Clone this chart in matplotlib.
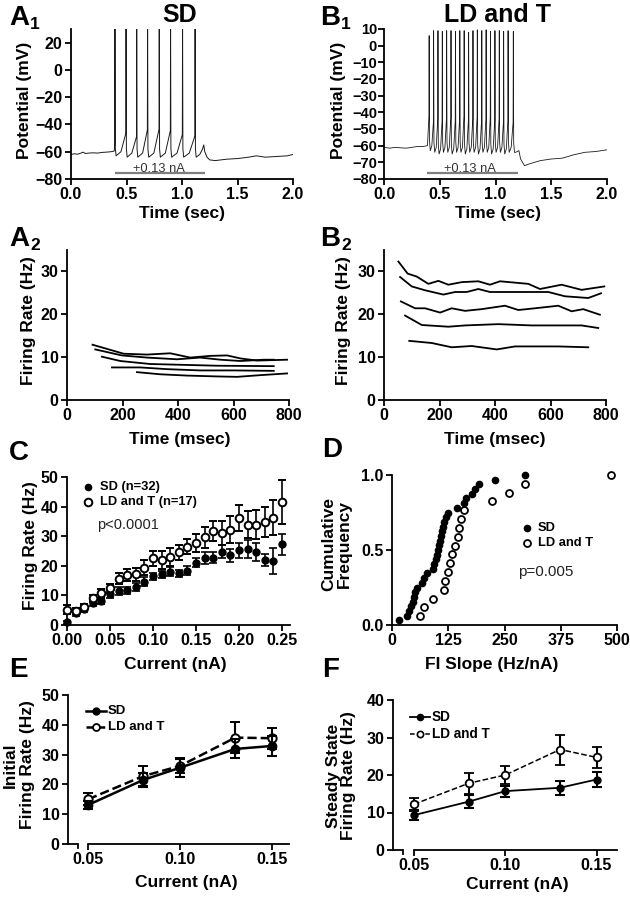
import matplotlib
matplotlib.use('Agg')
import matplotlib.pyplot as plt

plt.rcParams['font.family'] = ['Liberation Sans', 'DejaVu Sans']
plt.rcParams['font.weight'] = 'bold'
plt.rcParams['axes.labelweight'] = 'bold'

# ---------------- DATA ----------------
# A1 trace (SD): baseline before, spikes, after
a1_pre_t = [0.00, 0.03, 0.06, 0.09, 0.11, 0.13, 0.16, 0.20, 0.24, 0.28, 0.32, 0.36, 0.390]
a1_pre_v = [-62, -61.5, -61.8, -61, -60.3, -61.3, -61, -60.8, -61, -60.5, -60.3, -60, -59.5]
a1_spike_t = [0.396, 0.496, 0.592, 0.690, 0.795, 0.897, 1.005, 1.118]
a1_spike_peak = [40, 40, 40, 40, 40, 40, 40, 40]
a1_shoulder = [-54, -46.5, -49, -44, -43.5, -44.5, -47.5, -48.5]
a1_trough = [-63, -64, -64, -64, -64, -64, -64, -64]
a1_post_t = [1.160, 1.185, 1.196, 1.205, 1.225, 1.25, 1.30, 1.40, 1.50, 1.60, 1.67, 1.75, 1.85, 1.95, 2.00]
a1_post_v = [-62, -58, -55, -60, -64, -66, -66.5, -65.5, -65, -64, -63, -64, -63.5, -63, -62]

# B1 trace (LD and T)
b1_pre_t = [0.00, 0.05, 0.10, 0.15, 0.20, 0.25, 0.30, 0.35, 0.39]
b1_pre_v = [-61, -61.5, -61, -61.3, -61.5, -61, -60.5, -60.5, -60]
b1_spike_t = [0.405, 0.445, 0.484, 0.523, 0.562, 0.601, 0.641, 0.680, 0.719, 0.759,
              0.798, 0.837, 0.877, 0.916, 0.955, 0.995, 1.034, 1.073, 1.113, 1.160]
b1_spike_peak = [6, 9, 9, 8.5, 9, 9, 8.5, 9, 9, 8, 9, 9.5, 9, 9.5, 8.5, 9, 9, 8.5, 9, 8.5]
b1_shoulder = [-42, -46, -44, -45, -44, -43, -45, -44, -42, -45,
               -44, -43, -45, -44, -43, -45, -44, -46, -45, -46]
b1_trough = [-63, -64, -65, -64, -64, -65, -64, -64, -65, -64,
             -64, -65, -64, -64, -65, -64, -64, -65, -64, -64]
b1_post_t = [1.18, 1.21, 1.225, 1.26, 1.30, 1.40, 1.50, 1.60, 1.70, 1.80, 1.90, 2.00]
b1_post_v = [-64, -63, -68, -72, -71, -69, -68, -67.5, -65.5, -64, -63.5, -62.5]

stim_label = '+0.13 nA'

# A2: firing rate vs time (SD), five cells
a2_lines = [
    ([92, 156, 204, 288, 372, 444, 517, 577, 625, 685, 793],
     [12.9, 11.7, 10.8, 10.6, 10.9, 9.9, 10.3, 10.4, 9.7, 9.2, 9.4]),
    ([102, 198, 288, 396, 480, 553, 625, 709, 745],
     [11.8, 10.4, 9.9, 9.5, 9.9, 9.4, 9.1, 9.4, 9.4]),
    ([126, 192, 300, 420, 541, 745],
     [10.1, 9.1, 8.4, 8.2, 8.0, 7.9]),
    ([162, 264, 360, 480, 600, 745],
     [7.6, 7.6, 7.2, 6.9, 6.9, 6.8]),
    ([252, 336, 432, 541, 613, 697, 793],
     [6.5, 6.0, 5.7, 5.5, 5.4, 5.8, 6.2]),
]
# B2: firing rate vs time (LD and T)
b2_lines = [
    ([52, 85, 118, 160, 196, 232, 280, 340, 382, 418, 520, 562, 640, 712, 794],
     [32.3, 29.5, 28.8, 27.1, 27.8, 26.9, 27.5, 27.7, 26.9, 27.7, 27.1, 25.9, 26.9, 25.7, 26.5]),
    ([58, 100, 148, 214, 256, 298, 340, 382, 472, 592, 652, 736, 782],
     [28.7, 26.5, 25.6, 24.6, 25.2, 25.2, 25.9, 25.2, 25.2, 25.2, 24.2, 23.8, 24.9]),
    ([61, 112, 148, 202, 244, 292, 352, 436, 484, 544, 628, 676, 718, 778],
     [23.0, 21.4, 21.4, 20.4, 21.4, 20.8, 21.2, 22.0, 21.0, 21.4, 22.0, 20.7, 21.2, 19.9]),
    ([76, 136, 232, 292, 412, 532, 712, 772],
     [19.7, 17.5, 17.1, 17.4, 17.7, 17.4, 17.4, 16.8]),
    ([91, 172, 244, 316, 406, 472, 628, 736],
     [13.8, 13.3, 12.3, 12.6, 11.8, 12.5, 12.5, 12.3]),
]

# C: FI curves
c_current = [0.00, 0.01, 0.02, 0.03, 0.04, 0.05, 0.06, 0.07, 0.08, 0.09, 0.10, 0.11, 0.12,
             0.13, 0.14, 0.15, 0.16, 0.17, 0.18, 0.19, 0.20, 0.21, 0.22, 0.23, 0.24, 0.25]
c_sd = [0.9, 4.2, 5.4, 7.3, 8.2, 10.4, 11.5, 11.8, 12.9, 14.6, 16.5, 17.1, 18.0,
        17.4, 18.3, 21.1, 22.5, 22.8, 24.7, 23.6, 25.3, 25.8, 24.7, 21.9, 21.6, 27.3]
c_sd_err = [0.5, 1.0, 1.0, 1.0, 1.0, 1.2, 1.5, 1.2, 1.3, 1.5, 1.2, 1.3, 1.5,
            1.3, 1.5, 1.5, 2.0, 1.8, 2.2, 2.2, 2.5, 3.0, 3.0, 2.0, 4.3, 3.5]
c_ld = [5.1, 4.7, 6.2, 9.0, 10.7, 12.4, 15.7, 16.9, 17.2, 19.3, 22.5, 21.9, 23.0,
        24.5, 26.4, 27.8, 29.6, 31.8, 31.1, 32.2, 36.2, 33.9, 33.9, 34.8, 36.3, 41.6]
c_ld_err = [1.5, 1.0, 1.0, 1.3, 1.5, 1.5, 2.0, 2.0, 2.2, 2.5, 2.5, 3.0, 3.0,
            2.5, 2.5, 3.0, 3.5, 3.5, 4.0, 4.5, 4.5, 4.5, 5.0, 5.0, 6.0, 7.5]
c_labels = ['SD (n=32)', 'LD and T (n=17)']
c_p = 'p<0.0001'

# D: cumulative distributions of FI slope
d_sd_slope = [16, 33, 38, 43, 46, 49, 52, 56, 66, 72, 78, 90, 94, 98, 101, 103,
              105, 107, 108, 110, 113, 115, 119, 125, 144, 160, 164, 178, 185, 193, 229, 296]
d_ld_slope = [62, 72, 90, 116, 118, 125, 128, 133, 139, 146, 148, 154, 160, 222, 260, 296, 487]
d_labels = ['SD', 'LD and T']
d_p = 'p=0.005'

# E: initial firing rate
e_current = [0.05, 0.08, 0.10, 0.13, 0.15]
e_sd = [13.1, 21.5, 25.6, 31.9, 32.9]
e_sd_err = [1.3, 2.3, 3.0, 3.2, 3.4]
e_ld = [15.0, 22.8, 26.2, 35.7, 35.5]
e_ld_err = [2.0, 3.5, 2.5, 5.3, 3.5]

# F: steady state firing rate
f_current = [0.05, 0.08, 0.10, 0.13, 0.15]
f_sd = [9.3, 12.9, 15.7, 16.6, 18.8]
f_sd_err = [1.3, 1.8, 1.5, 1.9, 2.0]
f_ld = [12.2, 17.8, 20.0, 26.8, 24.7]
f_ld_err = [1.8, 2.8, 2.5, 4.0, 2.7]
ef_labels = ['SD', 'LD and T']

# ---------------- FIGURE ----------------
W, H = 630, 899
fig = plt.figure(figsize=(6.3, 8.99), dpi=100)

def add_ax(box):
    l, t, r, b = box
    return fig.add_axes([l / W, 1 - b / H, (r - l) / W, (b - t) / H])

def ftext(x, y, s, **kw):
    return fig.text(x / W, 1 - y / H, s, **kw)

def axfrac(box, x, y):
    l, t, r, b = box
    return (x - l) / (r - l), (b - y) / (b - t)

TICK = 11.5
LAB = 12.5

def style(ax, ysize=TICK):
    for s in ['top', 'right']:
        ax.spines[s].set_visible(False)
    for s in ['left', 'bottom']:
        ax.spines[s].set_linewidth(1.3)
    ax.tick_params(direction='out', length=4, width=1.3, labelsize=TICK, pad=2)
    ax.tick_params(axis='y', labelsize=ysize)

def build_trace(pre_t, pre_v, sp_t, sp_pk, sp_sh, sp_tr, post_t, post_v):
    t = list(pre_t)
    v = list(pre_v)
    for i, ts in enumerate(sp_t):
        t += [ts - 0.002, ts, ts + 0.003, ts + 0.010]
        v += [sp_sh[i], sp_pk[i], sp_tr[i] + 6, sp_tr[i]]
        if i < len(sp_t) - 1:
            nxt = sp_t[i + 1]
            t += [(ts + 0.010 + nxt - 0.002) / 2]
            v += [sp_tr[i] + 3]
    t += list(post_t)
    v += list(post_v)
    return t, v

def panel_label(x, y, letter, sub=None):
    ftext(x, y, letter, fontsize=20, fontweight='bold', ha='left', va='baseline')
    if sub:
        ftext(x + 21, y + 4, sub, fontsize=12.5, fontweight='bold', ha='left', va='baseline')

trace_color = '#1a1a1a'
stim_color = '#7f7f7f'

# ---- A1 ----
boxA1 = (71, 29, 293, 179)
ax = add_ax(boxA1)
t, v = build_trace(a1_pre_t, a1_pre_v, a1_spike_t, a1_spike_peak, a1_shoulder, a1_trough,
                   a1_post_t, a1_post_v)
ax.plot(t, v, color=trace_color, lw=0.7)
ax.plot([0.40, 1.21], [-75.5, -75.5], color=stim_color, lw=1.6, solid_capstyle='butt')
ax.text(0.79, -75.2, stim_label, ha='center', va='baseline', fontsize=9.3, fontweight='normal',
        color='#333333')
ax.set_xlim(0, 2)
ax.set_ylim(-80, 30)
ax.set_xticks([0, 0.5, 1.0, 1.5, 2.0])
ax.set_xticklabels(['0.0', '0.5', '1.0', '1.5', '2.0'])
ax.set_yticks([-80, -60, -40, -20, 0, 20])
style(ax)
ftext(182, 213, 'Time (sec)', fontsize=LAB, ha='center', va='center')
ftext(24, 100, 'Potential (mV)', fontsize=LAB, ha='center', va='center', rotation=90)
ftext(180, 15, 'SD', fontsize=18, ha='center', va='center')
panel_label(9, 25, 'A', '1')

# ---- B1 ----
boxB1 = (384, 29, 607, 179)
ax = add_ax(boxB1)
t, v = build_trace(b1_pre_t, b1_pre_v, b1_spike_t, b1_spike_peak, b1_shoulder, b1_trough,
                   b1_post_t, b1_post_v)
ax.plot(t, v, color=trace_color, lw=0.6)
ax.plot([0.39, 1.20], [-76.2, -76.2], color=stim_color, lw=1.6, solid_capstyle='butt')
ax.text(0.77, -75.8, stim_label, ha='center', va='baseline', fontsize=9.3, fontweight='normal',
        color='#333333')
ax.set_xlim(0, 2)
ax.set_ylim(-80, 10)
ax.set_xticks([0, 0.5, 1.0, 1.5, 2.0])
ax.set_xticklabels(['0.0', '0.5', '1.0', '1.5', '2.0'])
ax.set_yticks(list(range(-80, 11, 10)))
style(ax, ysize=10.5)
ax.tick_params(axis='y', pad=1)
ftext(498, 213, 'Time (sec)', fontsize=LAB, ha='center', va='center')
ftext(339, 100, 'Potential (mV)', fontsize=LAB, ha='center', va='center', rotation=90)
ftext(498, 15, 'LD and T', fontsize=18, ha='center', va='center')
panel_label(320, 25, 'B', '1')

# ---- A2 ----
boxA2 = (67, 250, 289, 400)
ax = add_ax(boxA2)
for xs, ys in a2_lines:
    ax.plot(xs, ys, color='black', lw=1.3)
ax.set_xlim(0, 800)
ax.set_ylim(0, 35)
ax.set_xticks([0, 200, 400, 600, 800])
ax.set_yticks([0, 10, 20, 30])
style(ax)
ftext(180, 440, 'Time (msec)', fontsize=LAB, ha='center', va='center')
ftext(29, 321, 'Firing Rate (Hz)', fontsize=LAB, ha='center', va='center', rotation=90)
panel_label(9, 246, 'A', '2')

# ---- B2 ----
boxB2 = (384, 250, 606, 400)
ax = add_ax(boxB2)
for xs, ys in b2_lines:
    ax.plot(xs, ys, color='black', lw=1.3)
ax.set_xlim(0, 800)
ax.set_ylim(0, 35)
ax.set_xticks([0, 200, 400, 600, 800])
ax.set_yticks([0, 10, 20, 30])
style(ax)
ftext(495, 440, 'Time (msec)', fontsize=LAB, ha='center', va='center')
ftext(344, 321, 'Firing Rate (Hz)', fontsize=LAB, ha='center', va='center', rotation=90)
panel_label(320, 246, 'B', '2')

# ---- C ----
boxC = (67, 477, 290, 625)
ax = add_ax(boxC)
ax.errorbar(c_current, c_sd, yerr=c_sd_err, fmt='o', color='black', ms=5, mfc='black',
            capsize=3, elinewidth=1.2, capthick=1.2, clip_on=False, zorder=3)
ax.errorbar(c_current, c_ld, yerr=c_ld_err, fmt='o', color='black', ms=5.5, mfc='white',
            mew=1.4, capsize=3, elinewidth=1.2, capthick=1.2, clip_on=False, zorder=4)
ax.set_xlim(0, 0.2593)
ax.set_ylim(0, 50)
ax.set_xticks([0, 0.05, 0.10, 0.15, 0.20, 0.25])
ax.set_xticklabels(['0.00', '0.05', '0.10', '0.15', '0.20', '0.25'])
ax.set_yticks([0, 10, 20, 30, 40, 50])
style(ax)
fx, fy = axfrac(boxC, 88, 487)
ax.plot([fx], [fy], 'o', color='black', ms=4.5, transform=ax.transAxes, clip_on=False)
fx2, fy2 = axfrac(boxC, 88, 502)
ax.plot([fx2], [fy2], 'o', color='black', mfc='white', mew=1.4, ms=5.5, transform=ax.transAxes,
        clip_on=False)
ftext(100, 487, c_labels[0], fontsize=9.3, ha='left', va='center')
ftext(100, 502, c_labels[1], fontsize=9.3, ha='left', va='center')
ftext(97, 525, c_p, fontsize=10.5, fontweight='normal', ha='left', va='center', color='#222222')
ftext(175, 664, 'Current (nA)', fontsize=LAB, ha='center', va='center')
ftext(30, 546, 'Firing Rate (Hz)', fontsize=LAB, ha='center', va='center', rotation=90)
panel_label(9, 460, 'C')

# ---- D ----
boxD = (392, 475, 617, 625)
ax = add_ax(boxD)
n_sd = len(d_sd_slope)
n_ld = len(d_ld_slope)
ax.plot(d_sd_slope, [(i + 1) / n_sd for i in range(n_sd)], 'o', color='black', ms=4.5,
        clip_on=False, zorder=3)
ax.plot(d_ld_slope, [(i + 1) / n_ld for i in range(n_ld)], 'o', color='black', mfc='white',
        mew=1.3, ms=5, clip_on=False, zorder=3)
ax.set_xlim(0, 500)
ax.set_ylim(0, 1)
ax.set_xticks([0, 125, 250, 375, 500])
ax.set_yticks([0, 0.5, 1.0])
ax.set_yticklabels(['0.0', '0.5', '1.0'])
style(ax)
fx, fy = axfrac(boxD, 527, 528)
ax.plot([fx], [fy], 'o', color='black', ms=4.5, transform=ax.transAxes, clip_on=False)
fx2, fy2 = axfrac(boxD, 527, 543)
ax.plot([fx2], [fy2], 'o', color='black', mfc='white', mew=1.3, ms=5, transform=ax.transAxes,
        clip_on=False)
ftext(538, 528, d_labels[0], fontsize=9.3, ha='left', va='center')
ftext(538, 543, d_labels[1], fontsize=9.3, ha='left', va='center')
ftext(518, 572, d_p, fontsize=11, fontweight='normal', ha='left', va='center', color='#222222')
ftext(492, 664, 'FI Slope (Hz/nA)', fontsize=LAB, ha='center', va='center')
ftext(337, 544, 'Cumulative\nFrequency', fontsize=LAB, ha='center', va='center', rotation=90,
      multialignment='center', linespacing=1.05)
panel_label(322, 457, 'D')

# ---- E ----
boxE = (68, 695, 289, 844)
ax = add_ax(boxE)
ax.errorbar(e_current, e_ld, yerr=e_ld_err, fmt='o--', color='black', ms=6, mfc='white',
            mew=1.4, lw=1.8, capsize=3.5, elinewidth=1.5, capthick=1.5, clip_on=False, zorder=3)
ax.errorbar(e_current, e_sd, yerr=e_sd_err, fmt='o-', color='black', ms=6, mfc='black',
            lw=1.8, capsize=3.5, elinewidth=1.5, capthick=1.5, clip_on=False, zorder=4)
ax.set_xlim(0.0391, 0.1592)
ax.set_ylim(0, 50)
ax.set_xticks([0.05, 0.10, 0.15])
ax.set_xticklabels(['0.05', '0.10', '0.15'])
ax.set_yticks([0, 10, 20, 30, 40, 50])
style(ax)
ax.spines['bottom'].set_bounds(0.05, 0.1592)
xb = 0.0391 + 10 / 1840
ax.plot([0.0391, xb], [0, 0], color='black', lw=1.3, clip_on=False, solid_capstyle='butt')
ax.plot([xb, xb], [0, -1.35], color='black', lw=1.3, clip_on=False)
l1a, _ = axfrac(boxE, 86, 0)
l1b, _ = axfrac(boxE, 106, 0)
m1, _ = axfrac(boxE, 96, 0)
_, y1 = axfrac(boxE, 0, 711)
_, y2 = axfrac(boxE, 0, 727)
ax.plot([l1a, l1b], [y1, y1], '-', color='black', lw=1.8, transform=ax.transAxes, clip_on=False)
ax.plot([m1], [y1], 'o', color='black', ms=5, transform=ax.transAxes, clip_on=False)
ax.plot([l1a, l1b], [y2, y2], '--', color='black', lw=1.8, dashes=(3, 1.5),
        transform=ax.transAxes, clip_on=False)
ax.plot([m1], [y2], 'o', color='black', mfc='white', mew=1.3, ms=5, transform=ax.transAxes,
        clip_on=False)
ftext(108, 711, ef_labels[0], fontsize=9.5, ha='left', va='center')
ftext(108, 727, ef_labels[1], fontsize=9.5, ha='left', va='center')
ftext(186, 883, 'Current (nA)', fontsize=LAB, ha='center', va='center')
ftext(19, 765, 'Initial\nFiring Rate (Hz)', fontsize=LAB, ha='center', va='center', rotation=90,
      multialignment='center', linespacing=1.15)
panel_label(9, 677, 'E')

# ---- F ----
boxF = (393, 700, 617, 850)
ax = add_ax(boxF)
ax.errorbar(f_current, f_ld, yerr=f_ld_err, fmt='o--', color='black', ms=5.5, mfc='white',
            mew=1.3, lw=1.1, capsize=3.5, elinewidth=1.5, capthick=1.5, clip_on=False, zorder=3)
ax.errorbar(f_current, f_sd, yerr=f_sd_err, fmt='o-', color='black', ms=5, mfc='black',
            lw=1.3, capsize=3.5, elinewidth=1.5, capthick=1.5, clip_on=False, zorder=4)
ax.set_xlim(0.0385, 0.1612)
ax.set_ylim(0, 40)
ax.set_xticks([0.05, 0.10, 0.15])
ax.set_xticklabels(['0.05', '0.10', '0.15'])
ax.set_yticks([0, 10, 20, 30, 40])
style(ax)
ax.spines['bottom'].set_bounds(0.05, 0.1612)
xb = 0.0385 + 10 / 1830
ax.plot([0.0385, xb], [0, 0], color='black', lw=1.3, clip_on=False, solid_capstyle='butt')
ax.plot([xb, xb], [0, -1.07], color='black', lw=1.3, clip_on=False)
l1a, _ = axfrac(boxF, 410, 0)
l1b, _ = axfrac(boxF, 430, 0)
m1, _ = axfrac(boxF, 420, 0)
_, y1 = axfrac(boxF, 0, 717)
_, y2 = axfrac(boxF, 0, 734)
ax.plot([l1a, l1b], [y1, y1], '-', color='black', lw=1.3, transform=ax.transAxes, clip_on=False)
ax.plot([m1], [y1], 'o', color='black', ms=4.5, transform=ax.transAxes, clip_on=False)
ax.plot([l1a, l1b], [y2, y2], '--', color='black', lw=1.1, dashes=(3, 2),
        transform=ax.transAxes, clip_on=False)
ax.plot([m1], [y2], 'o', color='black', mfc='white', mew=1.2, ms=4.5, transform=ax.transAxes,
        clip_on=False)
ftext(432, 717, ef_labels[0], fontsize=9.8, ha='left', va='center')
ftext(432, 734, ef_labels[1], fontsize=9.8, ha='left', va='center')
ftext(517, 885, 'Current (nA)', fontsize=LAB, ha='center', va='center')
ftext(341, 776, 'Steady State\nFiring Rate (Hz)', fontsize=LAB, ha='center', va='center',
      rotation=90, multialignment='center', linespacing=1.05)
panel_label(322, 677, 'F')

fig.savefig('out.png', dpi=100)
